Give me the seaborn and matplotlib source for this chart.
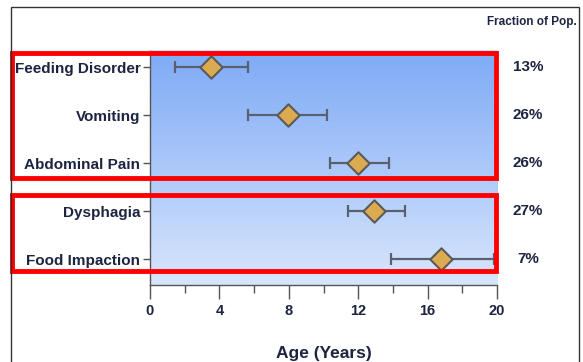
import numpy as np
import pandas as pd
import matplotlib
matplotlib.use("Agg")
import matplotlib.pyplot as plt
import matplotlib.transforms as mtransforms
from matplotlib.colors import LinearSegmentedColormap
from matplotlib.patches import Rectangle
import seaborn as sns

# data
conditions = ["Feeding Disorder", "Vomiting", "Abdominal Pain", "Dysphagia", "Food Impaction"]
mean_age = [3.5, 7.95, 12.0, 12.9, 16.8]
lower_age = [1.45, 5.65, 10.4, 11.4, 13.9]
upper_age = [5.65, 10.2, 13.8, 14.7, 19.8]
fraction = ["13%", "26%", "26%", "27%", "7%"]
x_ticks = [0, 4, 8, 12, 16, 20]

df = pd.DataFrame({"condition": conditions, "age": mean_age,
                   "lo": lower_age, "hi": upper_age, "frac": fraction})
df["pos"] = np.arange(len(df))

sns.set_style("white")
plt.rcParams["font.family"] = ["Liberation Sans Narrow", "Liberation Sans", "DejaVu Sans"]
plt.rcParams["font.weight"] = "bold"
navy = "#1c2440"

fig = plt.figure(figsize=(5.83, 3.62), dpi=100)
ax = fig.add_axes([150 / 583, 77 / 362, 347 / 583, 234 / 362])

# gradient background
grad = np.linspace(0, 1, 256).reshape(-1, 1)
cmap = LinearSegmentedColormap.from_list("bg", ["#7eaaf6", "#d8e6fc"])
ax.imshow(grad, extent=[0, 20, 4.54, -0.34], aspect="auto", cmap=cmap, zorder=0)

ax.errorbar(df["age"], df["pos"], xerr=[df["age"] - df["lo"], df["hi"] - df["age"]],
            fmt="none", ecolor="#5a6070", elinewidth=1.6, capsize=4.5, capthick=1.6, zorder=2)
sns.scatterplot(data=df, x="age", y="pos", marker="D", s=130, color="#dcaa50",
                edgecolor="#5a5a5a", linewidth=1.5, ax=ax, zorder=3, legend=False)

ax.set_xlim(0, 20)
ax.set_ylim(4.54, -0.34)
ax.set_yticks(df["pos"])
ax.set_yticklabels(df["condition"], fontsize=11, color=navy, fontweight="bold")
ax.set_xticks(x_ticks)
ax.set_xticks([2, 6, 10, 14, 18], minor=True)
ax.set_xticklabels([str(t) for t in x_ticks], fontsize=10.5, color=navy, fontweight="bold")
ax.tick_params(axis="x", which="major", bottom=True, direction="out", length=10, width=1,
               color="#555555", pad=4)
ax.tick_params(axis="x", which="minor", bottom=True, direction="out", length=6, width=1,
               color="#555555")
ax.tick_params(axis="y", left=True, direction="out", length=5, width=1, color="#555555", pad=2)
ax.set_xlabel("Age (Years)", fontsize=12.5, color=navy, fontweight="bold", labelpad=20)
ax.set_ylabel("")

for side in ["left", "bottom"]:
    ax.spines[side].set_color("#555555")
    ax.spines[side].set_linewidth(1)
ax.spines["top"].set_color("#7080a0")
ax.spines["top"].set_linewidth(1)
ax.spines["right"].set_visible(False)

# fraction of population column
trans = mtransforms.blended_transform_factory(fig.transFigure, ax.transData)
for p, f in zip(df["pos"], df["frac"]):
    ax.text(528 / 583, p, f, transform=trans, ha="center", va="center",
            fontsize=11, color=navy, fontweight="bold")
fig.text(577 / 583, 1 - 22 / 362, "Fraction of Pop.", ha="right", va="center",
         fontsize=8.5, color=navy, fontweight="bold")

# red group boxes
for y0, y1 in [(-0.30, 2.31), (2.66, 4.25)]:
    box = Rectangle((12 / 583, y0), (496 - 12) / 583, y1 - y0, transform=trans,
                    fill=False, edgecolor="#ff0000", linewidth=3.5, clip_on=False, zorder=5)
    ax.add_artist(box)

# outer frame
fig.patches.append(Rectangle((11 / 583, -0.02), (579 - 11) / 583, 1 - 7 / 362 + 0.02,
                             transform=fig.transFigure, fill=False,
                             edgecolor="#333333", linewidth=1))

fig.savefig("out.png", dpi=100)
